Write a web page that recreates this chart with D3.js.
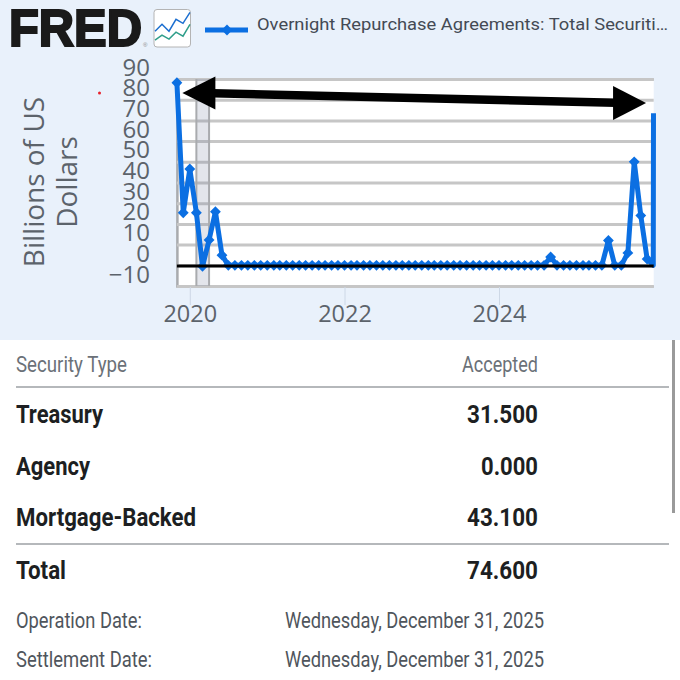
<!DOCTYPE html>
<html>
<head>
<meta charset="utf-8">
<script src="https://cdn.jsdelivr.net/npm/d3@7"></script>
<style>
  body { margin: 0; background: #fff; }
  svg { display: block; }
</style>
</head>
<body>
<div id="chart"></div>
<script>
// Chart data
var seriesName = "Overnight Repurchase Agreements: Total Securiti…";
var yAxisLines = ["Billions of US", "Dollars"];
var yTicks = [-10, 0, 10, 20, 30, 40, 50, 60, 70, 80, 90];
var xTickYears = ["2020", "2022", "2024"];
var recession = ["2020-02-01", "2020-04-01"];

var values2019 = [88.2, 25.4];
var values2020 = [46.5, 25.4, -0.5, 12.2, 25.9, 4.9, 0, 0, 0, 0, 0, 0];
var values2021 = [0, 0, 0, 0, 0, 0, 0, 0, 0, 0, 0, 0];
var values2022 = [0, 0, 0, 0, 0, 0, 0, 0, 0, 0, 0, 0];
var values2023 = [0, 0, 0, 0, 0, 0, 0, 0, 0, 0, 0, 0];
var values2024 = [0, 0, 0, 0, 0, 0, 0, 0, 4, 0, 0, 0];
var values2025 = [0, 0, 0, 0, 0, 12, 0, 0, 6, 50, 24, 3];
var lastDates = ["2025-12-30", "2025-12-31"];
var lastValues = [0, 73.5];

// Annotation arrow: [date, value] at both tips
var arrowLeft = ["2019-11-27", 83.2];
var arrowRight = ["2025-11-26", 78.4];

// Table below the chart
var tableHead = ["Security Type", "Accepted"];
var securityTypes = ["Treasury", "Agency", "Mortgage-Backed", "Total"];
var accepted = ["31.500", "0.000", "43.100", "74.600"];
var dateLabels = ["Operation Date:", "Settlement Date:"];
var dateValues = ["Wednesday, December 31, 2025", "Wednesday, December 31, 2025"];

// Small logo icon lines
var iconBlue = [22, 15, 22, 10, 14, 3];
var iconGreen = [31, 26, 30, 23, 27, 15];

var svgWidth = 680;
var svgHeight = 680;
var blue = "#0b6fe2";
var grey = "#5c636b";

var svg = d3.select("#chart")
  .append("svg")
  .attr("width", svgWidth)
  .attr("height", svgHeight);

var parseDay = d3.timeParse("%Y-%m-%d");
var parseYear = d3.timeParse("%Y");

// Monthly points plus the two year-end observations
var months = d3.timeMonth.range(new Date(2019, 10, 1), new Date(2026, 0, 1));
var allValues = values2019.concat(values2020, values2021, values2022, values2023, values2024, values2025);
var points = months.map(function(m, i) {
  return { date: m, value: allValues[i], marker: true };
});
lastDates.forEach(function(d, i) {
  points.push({ date: parseDay(d), value: lastValues[i], marker: false });
});

// Scales
var xScale = d3.scaleTime()
  .domain([new Date(2019, 10, 1), new Date(2026, 0, 1)])
  .range([176.9, 653.7]);

var yScale = d3.scaleLinear()
  .domain([-10, 90])
  .range([286, 79]);

// Panel and plot background
svg.append("rect")
  .attr("width", svgWidth)
  .attr("height", 340)
  .attr("fill", "#e9f1fb");

svg.append("rect")
  .attr("x", xScale.range()[0])
  .attr("y", yScale(90))
  .attr("width", xScale.range()[1] - xScale.range()[0])
  .attr("height", yScale(-10) - yScale(90))
  .attr("fill", "#fff");

// Grid and y axis
var yAxis = svg.append("g")
  .attr("transform", "translate(" + xScale.range()[0] + ",0)")
  .call(d3.axisLeft(yScale)
    .tickValues(yTicks)
    .tickSize(-(xScale.range()[1] - xScale.range()[0]))
    .tickFormat(d3.format("d")));

yAxis.select(".domain")
  .attr("stroke", "#a9abae")
  .attr("stroke-width", 2.5);

yAxis.selectAll(".tick line")
  .attr("stroke", "#c6c6c6")
  .attr("stroke-width", 3);

yAxis.selectAll(".tick text")
  .attr("x", -27)
  .attr("dy", -4)
  .attr("font-family", "Open Sans")
  .attr("font-size", 24)
  .attr("fill", grey);

// Recession band
svg.append("rect")
  .attr("x", xScale(parseDay(recession[0])))
  .attr("y", yScale(90))
  .attr("width", xScale(parseDay(recession[1])) - xScale(parseDay(recession[0])))
  .attr("height", yScale(-10) - yScale(90))
  .attr("fill", "#7f8aa3")
  .attr("fill-opacity", 0.22);

recession.forEach(function(d) {
  svg.append("line")
    .attr("x1", xScale(parseDay(d)))
    .attr("x2", xScale(parseDay(d)))
    .attr("y1", yScale(90))
    .attr("y2", yScale(-10))
    .attr("stroke", "#a9abae")
    .attr("stroke-width", 2);
});

// X axis
var xAxis = svg.append("g")
  .attr("transform", "translate(0," + (yScale(-10) + 1) + ")")
  .call(d3.axisBottom(xScale)
    .tickValues(xTickYears.map(function(y) { return parseYear(y); }))
    .tickSize(18)
    .tickPadding(0)
    .tickFormat(d3.timeFormat("%Y")));

xAxis.select(".domain").remove();
xAxis.selectAll(".tick line").attr("stroke", "#cdd8e6");
xAxis.selectAll(".tick text")
  .attr("font-family", "Open Sans")
  .attr("font-size", 23.5)
  .attr("fill", grey);

// Series line and diamonds
var line = d3.line()
  .x(function(d) { return xScale(d.date); })
  .y(function(d) { return yScale(d.value); });

svg.append("path")
  .datum(points)
  .attr("d", line)
  .attr("fill", "none")
  .attr("stroke", blue)
  .attr("stroke-width", 5)
  .attr("stroke-linejoin", "round");

var diamond = d3.symbol().type(d3.symbolDiamond2).size(75);

svg.selectAll(".marker")
  .data(points.filter(function(d) { return d.marker; }))
  .enter()
  .append("path")
  .attr("class", "marker")
  .attr("d", diamond)
  .attr("fill", blue)
  .attr("transform", function(d) {
    return "translate(" + xScale(d.date) + "," + yScale(d.value) + ")";
  });

// Black zero line drawn over the series
svg.append("line")
  .attr("x1", xScale.range()[0])
  .attr("x2", xScale.range()[1])
  .attr("y1", yScale(0) + 0.7)
  .attr("y2", yScale(0) + 0.7)
  .attr("stroke", "#000")
  .attr("stroke-width", 3);

// Double headed arrow
var ax1 = xScale(parseDay(arrowLeft[0]));
var ay1 = yScale(arrowLeft[1]);
var ax2 = xScale(parseDay(arrowRight[0]));
var ay2 = yScale(arrowRight[1]);

svg.append("line")
  .attr("x1", ax1 + 20)
  .attr("y1", ay1)
  .attr("x2", ax2 - 20)
  .attr("y2", ay2)
  .attr("stroke", "#000")
  .attr("stroke-width", 8.5);

svg.append("polygon")
  .attr("points", [[ax1, ay1], [ax1 + 33, ay1 - 16.5], [ax1 + 33, ay1 + 16.5]].join(" "))
  .attr("fill", "#000");

svg.append("polygon")
  .attr("points", [[ax2, ay2], [ax2 - 33, ay2 - 17], [ax2 - 33, ay2 + 17]].join(" "))
  .attr("fill", "#000");

// Stray red dot
svg.append("circle")
  .attr("cx", 99.5)
  .attr("cy", 93)
  .attr("r", 1.5)
  .attr("fill", "#e8202a");

// Y axis title
var yTitle = svg.append("g")
  .attr("font-family", "Open Sans")
  .attr("font-size", 28)
  .attr("fill", grey)
  .attr("text-anchor", "middle");

yAxisLines.forEach(function(t, i) {
  yTitle.append("text")
    .attr("transform", "translate(" + (44 + i * 33) + ",182) rotate(-90)")
    .text(t);
});

// Logo
svg.append("text")
  .attr("x", 9)
  .attr("y", 45.5)
  .attr("font-family", "Liberation Sans")
  .attr("font-weight", 700)
  .attr("font-size", 51)
  .attr("stroke", "#1a1a1a")
  .attr("stroke-width", 2.2)
  .attr("fill", "#1a1a1a")
  .attr("textLength", 133)
  .attr("lengthAdjust", "spacingAndGlyphs")
  .text("FRED");

svg.append("text")
  .attr("x", 143)
  .attr("y", 47)
  .attr("font-family", "Liberation Sans")
  .attr("font-size", 6)
  .attr("fill", "#888")
  .text("®");

svg.append("rect")
  .attr("x", 154)
  .attr("y", 9.5)
  .attr("width", 36.5)
  .attr("height", 37.5)
  .attr("rx", 3)
  .attr("fill", "#fff")
  .attr("stroke", "#b4b4b4")
  .attr("stroke-width", 1);

var iconX = d3.scaleLinear().domain([0, 5]).range([155, 190]);
var iconY = d3.scaleLinear().domain([0, 38]).range([9.5, 47]);
var iconLine = d3.line()
  .x(function(d, i) { return iconX(i); })
  .y(function(d) { return iconY(d); });

[[iconBlue, "#1c6fd0"], [iconGreen, "#2f9e8a"]].forEach(function(s) {
  svg.append("path")
    .attr("d", iconLine(s[0]))
    .attr("fill", "none")
    .attr("stroke", s[1])
    .attr("stroke-width", 1.5);
});

// Legend
svg.append("line")
  .attr("x1", 205)
  .attr("x2", 248)
  .attr("y1", 30)
  .attr("y2", 30)
  .attr("stroke", blue)
  .attr("stroke-width", 5);

svg.append("path")
  .attr("d", diamond)
  .attr("fill", blue)
  .attr("transform", "translate(227,30)");

svg.append("text")
  .attr("x", 257)
  .attr("y", 30)
  .attr("font-family", "Roboto")
  .attr("font-size", 17)
  .attr("fill", "#444a54")
  .attr("textLength", 411)
  .attr("lengthAdjust", "spacingAndGlyphs")
  .text(seriesName);

// Table. The text is condensed, so each string gets its measured width.
function tableText(str, x, y, width, size, weight, color) {
  svg.append("text")
    .attr("x", x)
    .attr("y", y)
    .attr("font-family", "Roboto")
    .attr("font-size", size)
    .attr("font-weight", weight)
    .attr("fill", color)
    .attr("textLength", width)
    .attr("lengthAdjust", "spacingAndGlyphs")
    .text(str);
}

var headColor = "#6b7178";
var rowColor = "#1d1f22";
var dateColor = "#4f555c";

tableText(tableHead[0], 16, 372, 111, 21.5, 400, headColor);
tableText(tableHead[1], 462, 372, 76, 21.5, 400, headColor);

var rowY = [423, 475, 526, 579];
var labelWidths = [87, 74, 180, 50];
var valueWidths = [71, 57, 71, 71];

securityTypes.forEach(function(s, i) {
  tableText(s, 16, rowY[i], labelWidths[i], 26.5, 700, rowColor);
  tableText(accepted[i], 538 - valueWidths[i], rowY[i], valueWidths[i], 26.5, 700, rowColor);
});

var dateY = [628, 667];
var dateLabelWidths = [126, 136];

dateLabels.forEach(function(s, i) {
  tableText(s, 16, dateY[i], dateLabelWidths[i], 22, 400, dateColor);
  tableText(dateValues[i], 285, dateY[i], 259, 22, 400, dateColor);
});

[387, 544].forEach(function(y) {
  svg.append("line")
    .attr("x1", 16)
    .attr("x2", 669)
    .attr("y1", y)
    .attr("y2", y)
    .attr("stroke", "#b5b8bb")
    .attr("stroke-width", 2);
});

// Scrollbar at the right edge
svg.append("rect")
  .attr("x", 672)
  .attr("y", 340)
  .attr("width", 3)
  .attr("height", 173)
  .attr("fill", "#9a9a9a");
</script>
</body>
</html>
